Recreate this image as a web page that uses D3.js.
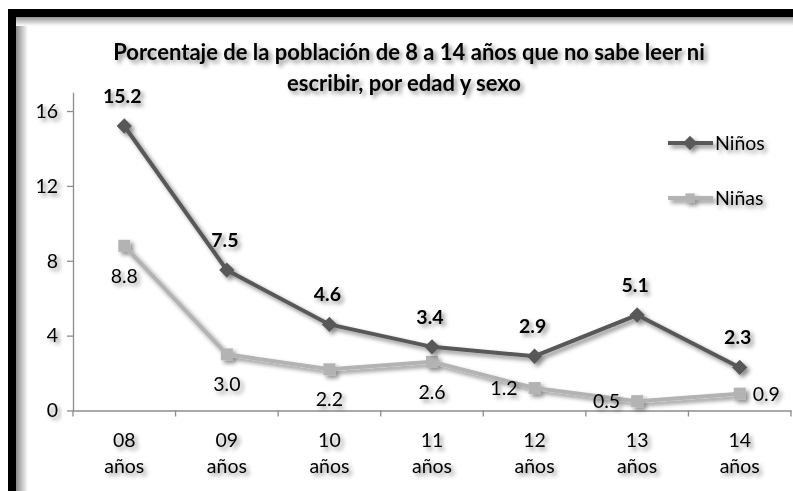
<!DOCTYPE html>
<html>
<head>
<meta charset="utf-8">
<script src="https://cdn.jsdelivr.net/npm/d3@7"></script>
<style>
  body { margin: 0; background: #fff; }
  text { font-family: Lato, "Open Sans", sans-serif; fill: #000; }
</style>
</head>
<body>
<div id="chart"></div>
<script>
let categories = ["08", "09", "10", "11", "12", "13", "14"];
let ninos = [15.2, 7.5, 4.6, 3.4, 2.9, 5.1, 2.3];
let ninas = [8.8, 3.0, 2.2, 2.6, 1.2, 0.5, 0.9];
let yTicks = [0, 4, 8, 12, 16];
let ninasLabelPos = ["below", "below", "below", "below", "left", "left", "right"];

function drawChart(id) {
  let width = 793, height = 491;
  let left = 73, right = 791, top = 92.3, bottom = 410.5;
  let darkGray = "#595959", lightGray = "#b3b3b3", axisGray = "#8c8c8c";
  let fs = 19.5;

  let svg = d3.select(`#${id}`).append("svg")
    .attr("width", width).attr("height", height);

  let defs = svg.append("defs");
  let f = defs.append("filter").attr("id", "shadow")
    .attr("x", "-20%").attr("y", "-20%").attr("width", "150%").attr("height", "160%");
  f.append("feDropShadow").attr("dx", 3).attr("dy", 3)
    .attr("stdDeviation", 2.2).attr("flood-color", "#000").attr("flood-opacity", 0.45);

  let gl = defs.append("linearGradient").attr("id", "shadeLeft");
  gl.append("stop").attr("offset", "0%").attr("stop-color", "#8a8a8a");
  gl.append("stop").attr("offset", "100%").attr("stop-color", "#fff");
  let gt = defs.append("linearGradient").attr("id", "shadeTop")
    .attr("x1", 0).attr("y1", 0).attr("x2", 0).attr("y2", 1);
  gt.append("stop").attr("offset", "0%").attr("stop-color", "#8a8a8a");
  gt.append("stop").attr("offset", "100%").attr("stop-color", "#fff");

  // frame with inner shadow
  svg.append("rect").attr("x", 0).attr("y", 0).attr("width", width).attr("height", height).attr("fill", "#fff");
  svg.append("rect").attr("x", 16).attr("y", 16).attr("width", 12).attr("height", height - 16).attr("fill", "url(#shadeLeft)");
  svg.append("rect").attr("x", 16).attr("y", 16).attr("width", width - 16).attr("height", 10).attr("fill", "url(#shadeTop)");
  svg.append("rect").attr("x", 8).attr("y", 9).attr("width", width - 8).attr("height", 8).attr("fill", "#000");
  svg.append("rect").attr("x", 8).attr("y", 9).attr("width", 8).attr("height", height - 9).attr("fill", "#000");

  // title
  let title = svg.append("text").attr("text-anchor", "middle")
    .attr("font-size", 22).attr("font-weight", "bold").attr("filter", "url(#shadow)");
  title.append("tspan").attr("x", 409).attr("y", 60).text("Porcentaje de la población de 8 a 14 años que no sabe leer ni");
  title.append("tspan").attr("x", 404).attr("y", 91).text("escribir, por edad y sexo");

  let x = d3.scaleBand().domain(categories).range([left, right]);
  let y = d3.scaleLinear().domain([0, 17]).range([bottom, top]);

  // y axis
  let yAxis = svg.append("g").attr("transform", `translate(${left},0)`)
    .call(d3.axisLeft(y).tickValues(yTicks).tickSize(6).tickPadding(9).tickSizeOuter(0));
  yAxis.selectAll("text").attr("font-size", fs).attr("filter", "url(#shadow)");

  // x axis
  let xAxis = svg.append("g").attr("transform", `translate(0,${bottom})`)
    .call(d3.axisBottom(x).tickSize(0).tickFormat(""));
  xAxis.selectAll(".tick").remove();
  let bounds = categories.map(c => x(c)).concat([right]);
  xAxis.selectAll("line.tk").data(bounds).enter().append("line")
    .attr("x1", d => d).attr("x2", d => d).attr("y1", 0).attr("y2", 6);
  svg.selectAll(".domain, line").attr("stroke", axisGray).attr("stroke-width", 1.3);

  let xl = svg.append("g").attr("filter", "url(#shadow)");
  categories.forEach(c => {
    let t = xl.append("text").attr("text-anchor", "middle").attr("font-size", fs);
    t.append("tspan").attr("x", x(c) + x.bandwidth() / 2).attr("y", 447).text(c);
    t.append("tspan").attr("x", x(c) + x.bandwidth() / 2).attr("y", 473).text("años");
  });

  let cx = (d, i) => x(categories[i]) + x.bandwidth() / 2;
  let line = d3.line().x(cx).y(d => y(d));

  // series
  let gNinas = svg.append("g").attr("filter", "url(#shadow)");
  gNinas.append("path").datum(ninas).attr("d", line)
    .attr("fill", "none").attr("stroke", lightGray).attr("stroke-width", 4);
  gNinas.selectAll("rect").data(ninas).enter().append("rect")
    .attr("x", (d, i) => cx(d, i) - 6).attr("y", d => y(d) - 6)
    .attr("width", 12).attr("height", 12).attr("fill", lightGray);

  let gNinos = svg.append("g").attr("filter", "url(#shadow)");
  gNinos.append("path").datum(ninos).attr("d", line)
    .attr("fill", "none").attr("stroke", darkGray).attr("stroke-width", 4);
  gNinos.selectAll("path.m").data(ninos).enter().append("path")
    .attr("transform", (d, i) => `translate(${cx(d, i)},${y(d)})`)
    .attr("d", d3.symbol().type(d3.symbolDiamond2).size(150))
    .attr("fill", darkGray);

  // data labels
  let labels = svg.append("g").attr("filter", "url(#shadow)");
  labels.selectAll("text.ninos").data(ninos).enter().append("text")
    .attr("text-anchor", "middle").attr("font-size", fs).attr("font-weight", "bold")
    .attr("x", (d, i) => cx(d, i) - 2).attr("y", d => y(d) - 23)
    .text(d => d.toFixed(1));
  labels.selectAll("text.ninas").data(ninas).enter().append("text")
    .attr("font-size", fs)
    .attr("text-anchor", (d, i) => ninasLabelPos[i] === "left" ? "end" : ninasLabelPos[i] === "right" ? "start" : "middle")
    .attr("x", (d, i) => ninasLabelPos[i] === "left" ? cx(d, i) - 17 : ninasLabelPos[i] === "right" ? cx(d, i) + 13 : cx(d, i))
    .attr("y", (d, i) => ninasLabelPos[i] === "below" ? y(d) + 37 : y(d) + 7)
    .text(d => d.toFixed(1));

  // legend
  let legend = svg.append("g").attr("filter", "url(#shadow)");
  let items = [
    {name: "Niños", color: darkGray, mark: "diamond", yPos: 143},
    {name: "Niñas", color: lightGray, mark: "square", yPos: 198}
  ];
  items.forEach(it => {
    legend.append("line").attr("x1", 668).attr("x2", 713).attr("y1", it.yPos).attr("y2", it.yPos)
      .attr("stroke", it.color).attr("stroke-width", 4);
    legend.append("path").attr("transform", `translate(690,${it.yPos})`)
      .attr("d", d3.symbol().type(it.mark === "diamond" ? d3.symbolDiamond2 : d3.symbolSquare2).size(it.mark === "diamond" ? 130 : 110))
      .attr("fill", it.color);
    legend.append("text").attr("x", 715).attr("y", it.yPos + 7).attr("font-size", fs).text(it.name);
  });
}

drawChart("chart");
</script>
</body>
</html>
